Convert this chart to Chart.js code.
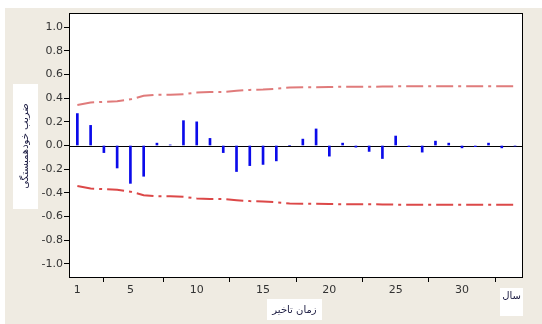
<!DOCTYPE html>
<html>
<head>
<meta charset="utf-8">
<script src="https://cdn.jsdelivr.net/npm/chart.js@4.4.0/dist/chart.umd.min.js"></script>
<style>
  html, body { margin: 0; padding: 0; background: #fff; }
  #wrap { width: 542px; height: 324px; }
</style>
</head>
<body>
<div id="wrap"><canvas id="acfChart" width="542" height="324"></canvas></div>
<script>
// autocorrelation per lag
var lags = [1,2,3,4,5,6,7,8,9,10,11,12,13,14,15,16,17,18,19,20,21,22,23,24,25,26,27,28,29,30,31,32,33,34];
var acf = [0.27,0.17,-0.06,-0.19,-0.32,-0.26,0.02,0.005,0.21,0.20,0.06,-0.06,-0.22,-0.17,-0.16,-0.13,0.0,0.054,0.14,-0.09,
           0.02,-0.014,-0.05,-0.11,0.08,-0.01,-0.056,0.037,0.02,-0.02,-0.01,0.02,-0.02,-0.005];
var upperLimit = [0.343,0.363,0.369,0.375,0.39,0.42,0.43,0.43,0.434,0.447,0.453,0.453,0.462,0.47,0.473,0.48,0.49,
                  0.492,0.493,0.495,0.496,0.497,0.497,0.498,0.5,0.5,0.5,0.5,0.5,0.5,0.5,0.5,0.5,0.5];
var lowerLimit = upperLimit.map(function(v){ return -v; });
var xTicks = [1,5,10,15,20,25,30];
var yTicks = [-1.0,-0.8,-0.6,-0.4,-0.2,0.0,0.2,0.4,0.6,0.8,1.0];

var yTitle = 'ضریب خودهمبستگی';
var xTitle = 'زمان تاخیر';
var unitTitle = 'سال';

function pts(vals){
    return vals.map(function(v, i){ return {x: lags[i], y: v}; });
}

// background panel, frame, zero line and the boxed titles
var decor = {
    id: 'decor',
    beforeDraw: function(c){
        var ctx = c.ctx, a = c.chartArea;
        ctx.save();
        ctx.fillStyle = '#fff';
        ctx.fillRect(0, 0, c.width, c.height);
        ctx.fillStyle = '#efebe2';
        ctx.fillRect(5, 8, c.width - 5, c.height - 8);
        ctx.fillStyle = '#fff';
        ctx.fillRect(a.left, a.top, a.right - a.left, a.bottom - a.top);
        ctx.restore();
    },
    beforeDatasetsDraw: function(c){
        var ctx = c.ctx, a = c.chartArea;
        var y0 = Math.round(c.scales.y.getPixelForValue(0)) + 0.5;
        ctx.save();
        ctx.strokeStyle = '#000';
        ctx.lineWidth = 1;
        ctx.beginPath();
        ctx.moveTo(a.left, y0);
        ctx.lineTo(a.right, y0);
        ctx.stroke();
        ctx.restore();
    },
    afterDraw: function(c){
        var ctx = c.ctx, a = c.chartArea;
        ctx.save();
        ctx.strokeStyle = '#000';
        ctx.lineWidth = 1;
        ctx.strokeRect(a.left + 0.5, a.top + 0.5, a.right - a.left - 1, a.bottom - a.top - 1);

        ctx.fillStyle = '#fff';
        ctx.fillRect(13, 84, 25, 125);
        ctx.fillRect(267, 299, 55, 21);
        ctx.fillRect(500, 288, 23, 28);

        ctx.fillStyle = '#1a1a40';
        ctx.font = '10px "DejaVu Sans"';
        ctx.textAlign = 'center';
        ctx.textBaseline = 'middle';
        ctx.direction = 'rtl';
        ctx.save();
        ctx.translate(25.5, 146);
        ctx.rotate(-Math.PI / 2);
        ctx.fillText(yTitle, 0, 0);
        ctx.restore();
        ctx.fillText(xTitle, 294.5, 310);
        ctx.fillText(unitTitle, 511.5, 296);
        ctx.restore();
    }
};

var chart = new Chart(document.getElementById('acfChart'), {
    type: 'bar',
    data: {
        datasets: [
            {
                type: 'bar',
                data: pts(acf),
                backgroundColor: '#0b0bea',
                borderWidth: 0,
                barThickness: 2,
                order: 2
            },
            {
                type: 'line',
                data: pts(upperLimit),
                borderColor: '#e07b7b',
                borderWidth: 2,
                borderDash: [17, 5, 3, 5],
                pointRadius: 0,
                tension: 0,
                fill: false,
                order: 1
            },
            {
                type: 'line',
                data: pts(lowerLimit),
                borderColor: '#dc4848',
                borderWidth: 2,
                borderDash: [17, 5, 3, 5],
                pointRadius: 0,
                tension: 0,
                fill: false,
                order: 1
            }
        ]
    },
    plugins: [decor],
    options: {
        responsive: false,
        animation: false,
        devicePixelRatio: 1,
        layout: {padding: {left: 0, right: 19, top: 13, bottom: 0}},
        plugins: {legend: {display: false}, tooltip: {enabled: false}},
        scales: {
            x: {
                type: 'linear',
                min: 0.37,
                max: 34.6,
                offset: false,
                afterBuildTicks: function(s){ s.ticks = xTicks.map(function(v){ return {value: v}; }); },
                afterFit: function(s){ s.height = 46; },
                grid: {display: true, drawOnChartArea: false, drawTicks: true, tickLength: 4, color: '#000'},
                border: {display: false},
                ticks: {
                    color: '#333',
                    font: {family: 'DejaVu Sans', size: 11},
                    padding: 2,
                    maxRotation: 0,
                    autoSkip: false
                }
            },
            y: {
                min: -1.12,
                max: 1.12,
                afterBuildTicks: function(s){ s.ticks = yTicks.map(function(v){ return {value: v}; }); },
                afterFit: function(s){ s.width = 69; },
                grid: {display: true, drawOnChartArea: false, drawTicks: true, tickLength: 5, color: '#000'},
                border: {display: false},
                ticks: {
                    color: '#333',
                    font: {family: 'DejaVu Sans', size: 11},
                    padding: 1,
                    autoSkip: false,
                    callback: function(v){ return v.toFixed(1); }
                }
            }
        }
    }
});
</script>
</body>
</html>
